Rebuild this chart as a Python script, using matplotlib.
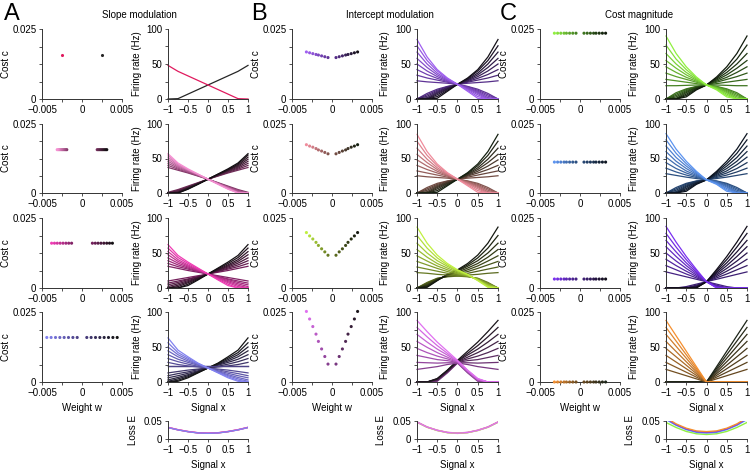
import numpy as np
import matplotlib
matplotlib.use("Agg")
import matplotlib.pyplot as plt
from matplotlib.colors import LinearSegmentedColormap

plt.rcParams['font.family'] = ['Liberation Sans', 'DejaVu Sans']
plt.rcParams['font.size'] = 7

# sample points of the signal axis used for every curve
signal_x = np.array([-1, -0.75, -0.5, -0.25, 0, 0.25, 0.5, 0.75, 1])

# ---------------- A: slope modulation ----------------
w_A1 = [0.0025]
c_A1 = [0.0156]
rate_A1 = [[0, 0.5, 7, 13.5, 20, 26.5, 33, 39.5, 48]]

w_A2 = [0.0019, 0.00207, 0.00224, 0.00241, 0.00259, 0.00276, 0.00293, 0.0031]
c_A2 = [0.0157] * 8
rate_A2 = [[1, 5, 10, 15, 20, 24.5, 29, 33, 37],
           [0, 4, 9, 14.5, 20, 25, 30, 34.5, 40],
           [0, 3, 8.5, 14, 20, 25.5, 31, 36, 43],
           [0, 2, 8, 14, 20, 26, 32, 37.5, 46],
           [0, 1, 7.5, 13.5, 20, 26.5, 33, 39, 49],
           [0, 0.5, 7, 13.5, 20, 27, 33.5, 40.5, 52],
           [0, 0, 6, 13, 20, 27, 34, 42, 55],
           [0, 0, 5.5, 12.5, 20, 27.5, 35, 43.5, 57]]

w_A3 = [0.0013, 0.00166, 0.00201, 0.00237, 0.00273, 0.00309, 0.00344, 0.0038]
c_A3 = [0.016] * 8
rate_A3 = [[10, 12.5, 15, 17.5, 20, 22.5, 25, 28, 31],
           [7, 10, 13, 16.5, 20, 23.5, 27, 30.5, 35],
           [4.5, 8, 12, 16, 20, 24, 28.5, 33, 39],
           [2, 6, 10.5, 15, 20, 25, 30, 35.5, 43],
           [0, 4, 9, 14.5, 20, 25.5, 31.5, 38, 47.5],
           [0, 2, 7.5, 13.5, 20, 26.5, 33, 40.5, 52],
           [0, 0, 5.5, 12.5, 20, 27.5, 35, 43.5, 57],
           [0, 0, 3.5, 11.5, 20, 28.5, 37, 46.5, 62]]

w_A4 = [0.0006, 0.00114, 0.00169, 0.00223, 0.00277, 0.00331, 0.00386, 0.0044]
c_A4 = [0.0159] * 8
rate_A4 = [[23, 23, 23, 23, 23, 23, 23, 23, 23],
           [13, 15, 17, 18.5, 20, 21.5, 23, 25, 28],
           [9, 12, 14.5, 17.5, 20, 22.5, 25.5, 29, 33.5],
           [6, 9, 12.5, 16, 20, 24, 28, 32.5, 39],
           [3, 6.5, 10.5, 15, 20, 25, 30, 36, 44.5],
           [1, 4.5, 9, 14.5, 20, 25.5, 32, 39, 50],
           [0, 2.5, 7.5, 13.5, 20, 26.5, 34, 42, 56],
           [0, 1, 6, 13, 20, 27, 36, 45.5, 63]]

loss_A = [[0.032, 0.0255, 0.0205, 0.017, 0.016, 0.017, 0.0205, 0.0255, 0.032],
          [0.0325, 0.026, 0.021, 0.0175, 0.0165, 0.0175, 0.021, 0.026, 0.0325],
          [0.0322, 0.0257, 0.0207, 0.0172, 0.0162, 0.0172, 0.0207, 0.0257, 0.0322],
          [0.0318, 0.0253, 0.0203, 0.0168, 0.0158, 0.0168, 0.0203, 0.0253, 0.0318]]

# ---------------- B: intercept modulation ----------------
w_B = [0.0005, 0.0009, 0.0013, 0.0017, 0.0020, 0.0024, 0.0028, 0.0032]
c_B1 = [0.0148, 0.0151, 0.0154, 0.0157, 0.0159, 0.0162, 0.0165, 0.0168]
c_B2 = [0.0142, 0.0147, 0.0152, 0.0156, 0.0161, 0.0166, 0.0170, 0.0175]
c_B3 = [0.0117, 0.0129, 0.0140, 0.0152, 0.0163, 0.0175, 0.0186, 0.0198]
c_B4 = [0.0064, 0.0091, 0.0118, 0.0145, 0.0171, 0.0198, 0.0225, 0.0252]

rate_B1 = [[0, 8, 14, 18, 21, 22.5, 23.5, 24.5, 26],
           [0, 6, 12.5, 17.5, 21, 24, 27, 30, 34],
           [0, 4, 11, 16.5, 21, 25, 29.5, 35, 42],
           [0, 2, 9.5, 16, 21, 26, 32, 40, 50],
           [0, 0.5, 8, 15, 21, 27, 34.5, 45, 58],
           [0, 0, 6, 14, 21, 28, 37, 50, 67],
           [0, 0, 3.5, 12.5, 21, 29, 40, 55, 76],
           [0, 0, 1, 11, 21, 30, 42, 60, 85]]

rate_B2 = [[0, 8, 14, 17.5, 20, 21.5, 22.5, 23.5, 25],
           [0, 6, 12.5, 17, 20, 23, 26, 29, 32],
           [0, 4, 11, 16, 20, 24.5, 29, 34, 40],
           [0, 2, 9.5, 15.5, 20, 25.5, 31.5, 39, 48],
           [0, 0.5, 8, 14.5, 20, 26.5, 34, 44, 56],
           [0, 0, 6, 13.5, 20, 27.5, 36.5, 49, 65],
           [0, 0, 3.5, 12, 20, 28.5, 39.5, 54.5, 75],
           [0, 0, 1, 10.5, 20, 29.5, 42, 60, 85]]

rate_B3 = [[0, 8, 14, 16, 17, 18.5, 19.5, 21, 22],
           [0, 7, 13.5, 16.5, 18.5, 21, 24, 27, 30],
           [0, 6, 13, 17, 20, 23.5, 28, 33, 38],
           [0, 5, 12.5, 17.5, 21, 26, 31.5, 38.5, 46],
           [0, 4, 12, 18, 22.5, 28.5, 35, 44, 55],
           [0, 3, 11.5, 18.5, 24, 31, 39, 50, 64],
           [0, 2, 11, 19, 25, 33, 43, 57, 75],
           [0, 1, 10.5, 19.5, 26, 35, 47, 64, 87]]

rate_B4 = [[0, 0, 1, 13, 27, 25, 22, 20, 18],
           [0, 0, 2, 14, 27.5, 27.5, 27, 27.5, 28],
           [0, 0, 2.5, 14.5, 28, 30.5, 32, 35, 38],
           [0, 0, 3, 15, 28.5, 33, 37, 42, 48],
           [0, 0, 3.5, 15.5, 29, 35.5, 42, 49.5, 58],
           [0, 0, 4, 16, 29.5, 38.5, 47, 57, 68],
           [0, 0, 4.5, 16.5, 30, 41, 52, 64.5, 78],
           [0, 0, 5, 17, 31, 44, 57, 72, 88]]

loss_B = [[0.047, 0.033, 0.024, 0.018, 0.016, 0.018, 0.024, 0.033, 0.047],
          [0.0475, 0.0335, 0.0245, 0.0185, 0.0165, 0.0185, 0.0245, 0.0335, 0.0475],
          [0.0465, 0.0325, 0.0235, 0.0175, 0.0155, 0.0175, 0.0235, 0.0325, 0.0465],
          [0.047, 0.033, 0.024, 0.018, 0.016, 0.018, 0.024, 0.033, 0.047]]

# ---------------- C: cost magnitude ----------------
w_C = [0.0005, 0.0009, 0.0013, 0.0017, 0.0020, 0.0024, 0.0028, 0.0032]
c_C1 = [0.0235] * 8
c_C2 = [0.0112] * 8
c_C3 = [0.0032] * 8
c_C4 = [0.0] * 8

rate_C1 = [[0, 9, 14.5, 18, 20, 20, 19.5, 19, 19],
           [0, 7, 13.5, 17.5, 20, 22, 24, 26, 28],
           [0, 5, 12, 17, 20, 24, 28, 32, 37],
           [0, 3, 10.5, 16.5, 20, 25.5, 31, 38, 46],
           [0, 1, 9, 16, 20, 27, 34.5, 44, 55],
           [0, 0, 7, 15, 20, 28.5, 38, 50, 65],
           [0, 0, 5, 14, 20, 30, 42, 57, 77],
           [0, 0, 3, 13, 20, 31.5, 46, 65, 90]]

rate_C2 = [[0, 8, 14, 17.5, 19, 21, 23, 25.5, 28],
           [0, 6, 13, 17, 19, 22.5, 26, 30.5, 36],
           [0, 4, 11.5, 16.5, 19, 24, 29, 35.5, 44],
           [0, 2, 10, 16, 19, 25.5, 32, 41, 52],
           [0, 0.5, 8.5, 15.5, 19, 27, 35.5, 46, 60],
           [0, 0, 6.5, 14.5, 19, 28.5, 39, 51.5, 68],
           [0, 0, 4.5, 13.5, 19, 30, 42.5, 57.5, 77],
           [0, 0, 2.5, 12.5, 19, 31.5, 46, 63.5, 86]]

rate_C3 = [[0, 0, 2, 5.5, 9, 12.5, 16, 19.5, 23],
           [0, 0, 0.5, 4, 9, 14.5, 20, 26, 32],
           [0, 0, 0, 3, 9, 16.5, 24, 32, 41],
           [0, 0, 0, 2, 9, 18.5, 28, 38.5, 50],
           [0, 0, 0, 1.5, 9, 20.5, 32, 45, 59],
           [0, 0, 0, 1, 9, 22.5, 36, 51.5, 68],
           [0, 0, 0, 0.5, 9, 24.5, 40.5, 58.5, 78],
           [0, 0, 0, 0, 9, 26.5, 45, 65.5, 88]]

rate_C4 = [[0, 0, 0, 0, 0, 4.5, 9, 13.5, 18],
           [0, 0, 0, 0, 0, 7, 14, 21, 28],
           [0, 0, 0, 0, 0, 9.5, 19, 28.5, 38],
           [0, 0, 0, 0, 0, 12, 24, 36, 48],
           [0, 0, 0, 0, 0, 14.5, 29, 43.5, 58],
           [0, 0, 0, 0, 0, 17, 34, 51, 68],
           [0, 0, 0, 0, 0, 19.5, 39, 58.5, 78],
           [0, 0, 0, 0, 0, 22, 44, 66, 88]]

loss_C = [[0.046, 0.032, 0.021, 0.0145, 0.0125, 0.0145, 0.021, 0.032, 0.046],
          [0.054, 0.038, 0.026, 0.0185, 0.0165, 0.0185, 0.026, 0.038, 0.054],
          [0.057, 0.040, 0.028, 0.0205, 0.0185, 0.0205, 0.028, 0.040, 0.057],
          [0.059, 0.042, 0.030, 0.0225, 0.0205, 0.0225, 0.030, 0.042, 0.059]]

# colour ramps (outermost negative weight -> outermost positive weight)
palettes = [
    [['#e01a5e', '#262626'],
     ['#f590d2', '#7a3060', '#141014'],
     ['#f03cb4', '#7a2060', '#141014'],
     ['#8282f0', '#4a3e80', '#141414']],
    [['#a060f0', '#5a3090', '#141018'],
     ['#f08c9c', '#7a5048', '#142010'],
     ['#c0f040', '#607020', '#141810'],
     ['#e070f0', '#803a88', '#1a141a']],
    [['#90f040', '#407a20', '#101a0c'],
     ['#5c94f0', '#284a78', '#0c1420'],
     ['#7a30f0', '#40207a', '#100c18'],
     ['#f59030', '#6a4a20', '#1c2418']],
]

weights = [[w_A1, w_A2, w_A3, w_A4], [w_B] * 4, [w_C] * 4]
costs = [[c_A1, c_A2, c_A3, c_A4], [c_B1, c_B2, c_B3, c_B4], [c_C1, c_C2, c_C3, c_C4]]
rates = [[rate_A1, rate_A2, rate_A3, rate_A4],
         [rate_B1, rate_B2, rate_B3, rate_B4],
         [rate_C1, rate_C2, rate_C3, rate_C4]]
losses = [loss_A, loss_B, loss_C]
titles = ['Slope modulation', 'Intercept modulation', 'Cost magnitude']
letters = ['A', 'B', 'C']

# layout in pixels
W, H = 754.0, 471.0
cost_x = [(42, 122), (292, 372), (540, 620)]
rate_x = [(168, 248), (417, 498), (666, 747)]
rows_y = [(29, 99), (124, 193), (218, 288), (312, 382)]
loss_y = (421, 439)
title_x = [139, 390, 639]
letter_x = [4, 251, 500]

fig = plt.figure(figsize=(W / 100, H / 100), dpi=100)


def px_axes(x, y):
    return fig.add_axes([x[0] / W, 1 - y[1] / H, (x[1] - x[0]) / W, (y[1] - y[0]) / H])


def style(ax):
    ax.spines['top'].set_visible(False)
    ax.spines['right'].set_visible(False)
    for s in ['left', 'bottom']:
        ax.spines[s].set_linewidth(0.7)
        ax.spines[s].set_color('#333333')
    ax.tick_params(which='both', direction='out', length=2.5, width=0.6,
                   pad=1.5, labelsize=7, color='#333333')


def rate_ticks(ax):
    ax.set_xlim(-1, 1)
    ax.set_xticks([-1, -0.5, 0, 0.5, 1])
    ax.set_xticklabels(['\u22121', '\u22120.5', '0', '0.5', '1'])


for j in range(3):
    fig.text(letter_x[j] / W, 1 - 3 / H, letters[j], fontsize=17, va='top', ha='left')
    fig.text(title_x[j] / W, 1 - 15 / H, titles[j], fontsize=7, va='center', ha='center')
    for i in range(4):
        cmap = LinearSegmentedColormap.from_list('p', palettes[j][i])
        w = np.array(weights[j][i])
        c = np.array(costs[j][i])
        n = len(w)
        cols = cmap(np.linspace(0, 1, 2 * n))

        ax = px_axes(cost_x[j], rows_y[i])
        style(ax)
        ax.scatter(w, c, s=5, color=cols[n:], linewidths=0, clip_on=False, zorder=3)
        ax.scatter(-w, c, s=5, color=cols[:n][::-1], linewidths=0, clip_on=False, zorder=3)
        ax.set_xlim(-0.005, 0.005)
        ax.set_ylim(0, 0.025)
        ax.set_xticks([-0.005, 0, 0.005])
        ax.set_xticklabels(['\u22120.005', '0', '0.005'])
        ax.set_xticks([-0.0025, 0.0025], minor=True)
        ax.set_yticks([0, 0.025])
        ax.set_yticklabels(['0', '0.025'])
        ax.set_yticks([0.00625, 0.0125, 0.01875], minor=True)
        ax.set_ylabel('Cost c', fontsize=7)
        ax.yaxis.set_label_coords(-0.39, 0.5)
        if i == 3:
            ax.set_xlabel('Weight w', fontsize=7)
            ax.xaxis.set_label_coords(0.5, -0.30)

        ax = px_axes(rate_x[j], rows_y[i])
        style(ax)
        r = rates[j][i]
        for k in range(n):
            ax.plot(signal_x, r[k], color=cols[n + k], lw=0.9, clip_on=False)
        for k in range(n):
            ax.plot(-signal_x, r[k], color=cols[n - 1 - k], lw=0.9, clip_on=False)
        rate_ticks(ax)
        ax.set_ylim(0, 100)
        ax.set_yticks([0, 50, 100])
        ax.set_yticks([25, 75], minor=True)
        ax.set_ylabel('Firing rate (Hz)', fontsize=7)
        ax.yaxis.set_label_coords(-0.33, 0.5)
        if i == 3:
            ax.set_xlabel('Signal x', fontsize=7)
            ax.xaxis.set_label_coords(0.5, -0.30)

    ax = px_axes(rate_x[j], loss_y)
    style(ax)
    for i in range(4):
        ax.plot(signal_x, losses[j][i], color=palettes[j][i][0], lw=1.0)
    rate_ticks(ax)
    ax.set_ylim(0, 0.05)
    ax.set_yticks([0, 0.05])
    ax.set_yticklabels(['0', '0.05'])
    ax.set_ylabel('Loss E', fontsize=7)
    ax.yaxis.set_label_coords(-0.38, 0.5)
    ax.set_xlabel('Signal x', fontsize=7)
    ax.xaxis.set_label_coords(0.5, -1.15)

fig.savefig('out.png', dpi=100)
